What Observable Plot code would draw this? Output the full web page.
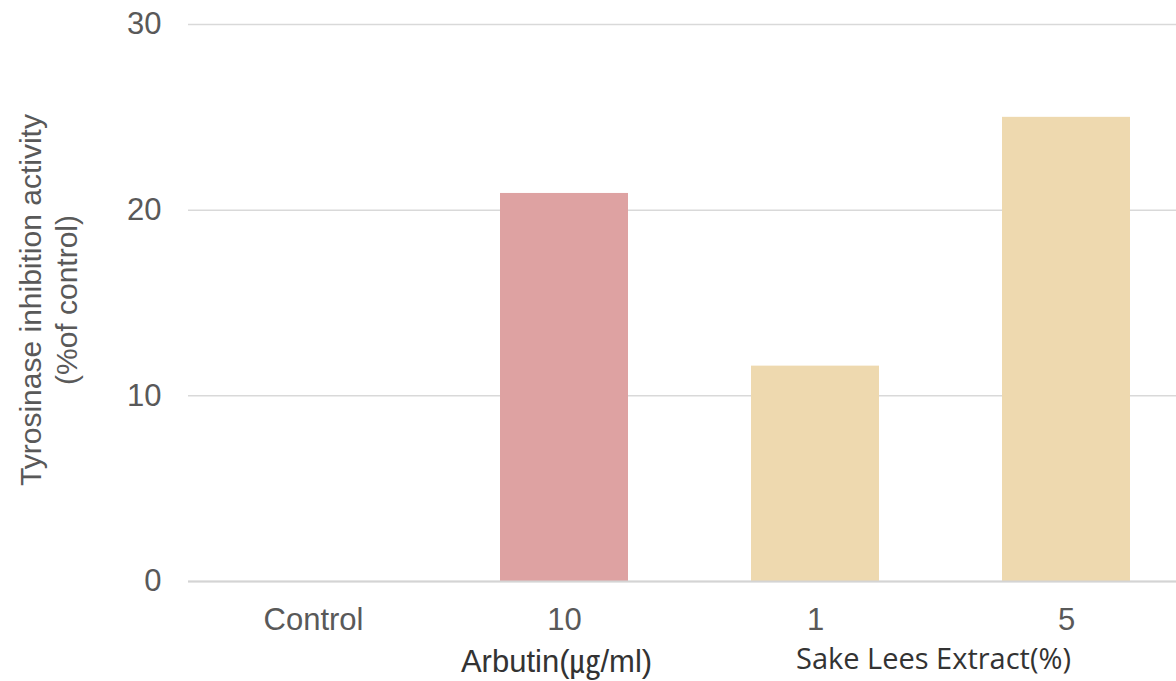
<!DOCTYPE html>
<html>
<head>
<meta charset="utf-8">
<script src="https://cdn.jsdelivr.net/npm/d3@7"></script>
<script src="https://cdn.jsdelivr.net/npm/@observablehq/plot@0.6"></script>
<style>
  html, body { margin: 0; padding: 0; background: #ffffff; }
  #chart svg { display: block; }
</style>
</head>
<body>
<div id="chart"></div>
<script>
// Treatments along the x axis and their tyrosinase inhibition (% of control)
const categories = ["Control", "10", "1", "5"];
const values = [0, 20.9, 11.6, 25.0];
const treatment = ["Control", "Arbutin", "Sake Lees Extract", "Sake Lees Extract"];
const yTicks = [0, 10, 20, 30];

// Group captions under the tick labels
const groupLabels = ["Arbutin(㎍/ml)", "Sake Lees Extract(%)"];
const groupAnchor = ["10", "1"];

const treatmentColors = { "Control": "#cccccc", "Arbutin": "#dea2a2", "Sake Lees Extract": "#eed9af" };

const data = categories.map((c, i) => ({ category: c, value: values[i], treatment: treatment[i] }));
const groups = groupLabels.map((g, i) => ({ label: g, at: groupAnchor[i] }));

const textColor = "#595959";
const gridColor = "#d9d9d9";

const chart = Plot.plot({
  width: 1176,
  height: 681,
  marginLeft: 188,
  marginRight: 0,
  marginTop: 24,
  marginBottom: 100,
  style: { fontFamily: "'Liberation Sans', Arial, sans-serif", fontSize: "31px", color: textColor, background: "#ffffff" },
  // the last band runs past the right edge, so the plot is cropped there
  x: { domain: categories, range: [188, 1192], paddingInner: 0.49, paddingOuter: 0.245, label: null },
  y: { domain: [0, 30], ticks: yTicks, label: null },
  marks: [
    Plot.gridY(yTicks, { stroke: gridColor, strokeOpacity: 1, strokeWidth: 1.5 }),
    Plot.barY(data, { x: "category", y: "value", fill: d => treatmentColors[d.treatment] }),
    Plot.ruleY([0], { stroke: "#d4d4d4", strokeWidth: 2 }),
    Plot.axisY(yTicks, { tickSize: 0, tickPadding: 27, fontSize: 31, fill: textColor, label: null }),
    Plot.axisX({ tickSize: 0, tickPadding: 26, fontSize: 31, fill: textColor, label: null }),
    Plot.text([groups[0]], {
      x: "at", text: "label", frameAnchor: "bottom", dy: 90, dx: -8,
      fontSize: 31, fill: "#333333",
      fontFamily: "'Liberation Sans', Arial, 'Noto Sans CJK KR', sans-serif"
    }),
    Plot.text([groups[1]], {
      x: "at", text: "label", frameAnchor: "bottom", dy: 87, dx: 118,
      fontSize: 29, fill: "#333333",
      fontFamily: "'Open Sans', sans-serif"
    }),
    Plot.text(["Tyrosinase inhibition activity\n(%of control)"], {
      frameAnchor: "left", textAnchor: "middle", dx: -141, dy: -3, rotate: -90,
      lineHeight: 1.2, fontSize: 30, fill: textColor
    })
  ]
});

document.getElementById("chart").append(chart);
</script>
</body>
</html>
